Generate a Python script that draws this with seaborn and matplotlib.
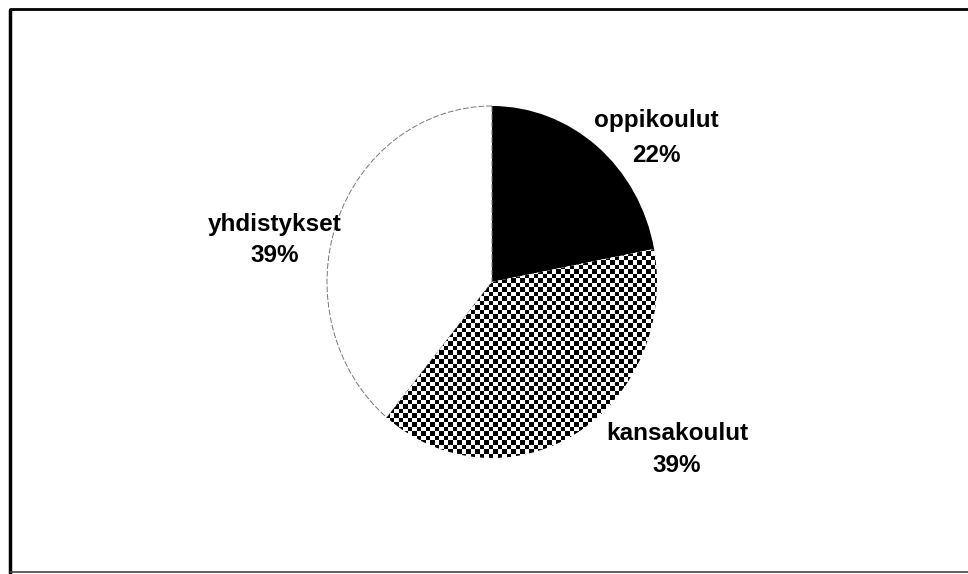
import matplotlib
matplotlib.use("Agg")
import matplotlib.pyplot as plt
import numpy as np
import seaborn as sns

# Data
categories = ['oppikoulut', 'kansakoulut', 'yhdistykset']
shares = [22, 39, 39]
pct_labels = ['22%', '39%', '39%']

sns.set_theme(style="white")
plt.rcParams['font.family'] = ['Liberation Sans', 'DejaVu Sans']

W, H = 968, 574
fig = plt.figure(figsize=(W / 100, H / 100), dpi=100)
fig.patch.set_facecolor('white')

# pie box in pixels (slightly taller than wide, like the scan)
cx, cy, rx, ry = 492, 282, 165, 176
ax = fig.add_axes([(cx - rx) / W, 1 - (cy + ry) / H, 2 * rx / W, 2 * ry / H])

wedges, _ = ax.pie(shares, startangle=90, counterclock=False,
                   colors=['black', 'white', 'white'],
                   wedgeprops=dict(linewidth=0))
ax.set_aspect('auto')
ax.axis('off')

# outline of the white slice
wedges[2].set_edgecolor('#777777')
wedges[2].set_linewidth(0.7)
wedges[2].set_linestyle((0, (6, 2)))

# checkerboard texture for the middle slice
cell = 4.5
nx = int(2 * rx / cell) + 1
ny = int(2 * ry / cell) + 1
checker = (np.add.outer(np.arange(ny), np.arange(nx)) % 2).astype(float)
img = ax.imshow(checker, cmap='gray', extent=(-1, -1 + nx * cell / rx, -1, -1 + ny * cell / ry),
                interpolation='nearest', origin='lower', zorder=2, aspect='auto')
img.set_clip_path(wedges[1])
ax.set_xlim(-1, 1)
ax.set_ylim(-1, 1)

# labels
label_pos = [(656, 120, 155), (677, 433, 465), (275, 224, 256)]
for name, pct, (x, y1, y2) in zip(categories, pct_labels, label_pos):
    fig.text(x / W, 1 - y1 / H, name, ha='center', va='center',
             fontsize=17.5, fontweight='bold', color='black')
    fig.text(x / W, 1 - y2 / H, pct, ha='center', va='center',
             fontsize=17.5, fontweight='bold', color='black')

# frame of the scanned chart
fig.add_artist(plt.Line2D([10 / W, 10 / W], [1 - 10 / H, 0], transform=fig.transFigure,
                          color='black', lw=2.5))
fig.add_artist(plt.Line2D([10 / W, 1], [1 - 9 / H, 1 - 9 / H], transform=fig.transFigure,
                          color='black', lw=2))
fig.add_artist(plt.Line2D([10 / W, 1], [1 - 572 / H, 1 - 572 / H], transform=fig.transFigure,
                          color='#444444', lw=1.2))

fig.savefig('out.png', dpi=100, facecolor='white')
